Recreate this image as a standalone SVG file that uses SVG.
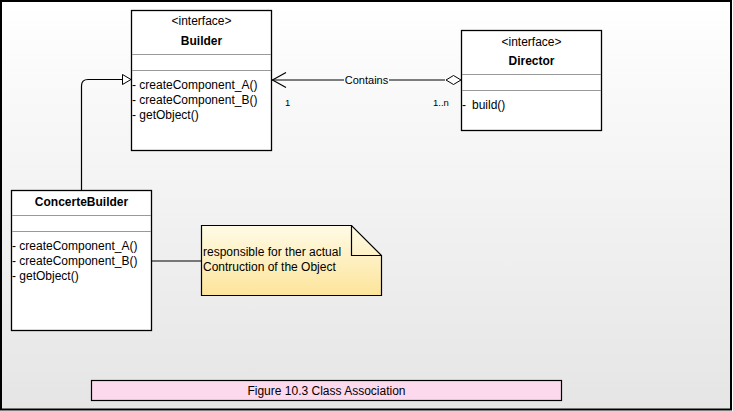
<svg xmlns="http://www.w3.org/2000/svg" width="733" height="411" viewBox="0 0 733 411">
<defs>
<linearGradient id="bg" x1="0" y1="0" x2="0" y2="1">
<stop offset="0" stop-color="#ffffff"/>
<stop offset="1" stop-color="#e5e5e5"/>
</linearGradient>
<linearGradient id="note" x1="0" y1="0" x2="0" y2="1">
<stop offset="0" stop-color="#fffbe6"/>
<stop offset="1" stop-color="#fde49a"/>
</linearGradient>
<style>
text{font-family:"Liberation Sans",Arial,Helvetica,sans-serif;font-size:12px;fill:#000}
.box{fill:#fff;stroke:#000;stroke-width:1.3}
.sep{stroke:#999;stroke-width:1}
.b{font-weight:bold}
.c{text-anchor:middle}
.lbl{font-size:11px}
.sm{font-size:9.5px}
.ln{fill:none;stroke:#000;stroke-width:1.2}
</style>
</defs>
<rect x="1" y="1" width="730" height="408.5" fill="url(#bg)" stroke="#000" stroke-width="2"/>

<g id="connectors">
<path class="ln" d="M81.5,190 V86 Q81.5,79.5 88,79.5 H123"/>
<polygon points="131,79.5 122.5,74.5 122.5,84.5" fill="#fff" stroke="#000" stroke-width="1"/>
<line class="ln" x1="272" y1="80" x2="445" y2="80"/>
<polyline class="ln" points="286,72.5 272.5,80 286,87.5"/>
<polygon points="461,80 453.5,75.5 446,80 453.5,84.5" fill="#fff" stroke="#000" stroke-width="1"/>
<rect x="344" y="73" width="45" height="13" fill="#fafafa"/>
<text class="lbl" x="366.5" y="84" text-anchor="middle">Contains</text>
<text class="sm" x="285" y="106">1</text>
<text class="sm" x="433" y="106">1..n</text>
<line class="ln" x1="151" y1="261" x2="201" y2="261"/>
</g>

<g id="builder">
<rect class="box" x="131.5" y="10.5" width="140" height="140"/>
<line class="sep" x1="132" y1="54.5" x2="271" y2="54.5"/>
<line class="sep" x1="132" y1="70.5" x2="271" y2="70.5"/>
<text class="c" x="201.5" y="25">&lt;interface&gt;</text>
<text class="b c" x="201.5" y="44.5">Builder</text>
<text x="132" y="89">- createComponent_A()</text>
<text x="132" y="104">- createComponent_B()</text>
<text x="132" y="119">- getObject()</text>
</g>

<g id="director">
<rect class="box" x="461.5" y="30.5" width="140" height="100"/>
<line class="sep" x1="462" y1="74.5" x2="601" y2="74.5"/>
<line class="sep" x1="462" y1="90.5" x2="601" y2="90.5"/>
<text class="c" x="531.5" y="46">&lt;interface&gt;</text>
<text class="b c" x="531.5" y="64.5">Director</text>
<text x="462" y="109">-</text>
<text x="472" y="109">build()</text>
</g>

<g id="concretebuilder">
<rect class="box" x="11.5" y="190.5" width="140" height="140"/>
<line class="sep" x1="12" y1="215.5" x2="151" y2="215.5"/>
<line class="sep" x1="12" y1="231.5" x2="151" y2="231.5"/>
<text class="b c" x="81.5" y="205.5">ConcerteBuilder</text>
<text x="12" y="250">- createComponent_A()</text>
<text x="12" y="265">- createComponent_B()</text>
<text x="12" y="280">- getObject()</text>
</g>

<g id="note">
<path d="M201.5,225.5 H351.5 L381.5,255.5 V295.5 H201.5 Z" fill="url(#note)" stroke="#000" stroke-width="1.2"/>
<polyline points="351.5,225.5 351.5,255.5 381.5,255.5" fill="none" stroke="#000" stroke-width="1.2"/>
<text x="203" y="256">responsible for ther actual</text>
<text x="203" y="271">Contruction of the Object</text>
</g>

<g id="caption">
<rect x="91.5" y="380.5" width="470" height="20" fill="#fdd9ee" stroke="#000" stroke-width="1.2"/>
<text class="c" x="326.5" y="394.5">Figure 10.3 Class Association</text>
</g>
</svg>
